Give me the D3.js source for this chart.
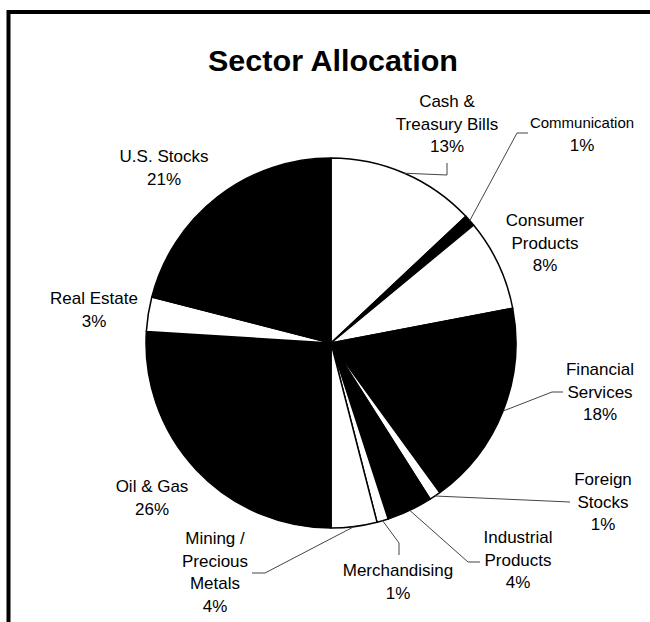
<!DOCTYPE html>
<html>
<head>
<meta charset="utf-8">
<script src="https://cdn.jsdelivr.net/npm/d3@7"></script>
<style>
  body { margin: 0; background: #fff; }
  text { font-family: "Liberation Sans", Arial, sans-serif; fill: #000; }
</style>
</head>
<body>
<svg id="chart"></svg>
<script>
const width = 650;
const height = 622;

// data
var sectors = ["Cash & Treasury Bills", "Communication", "Consumer Products", "Financial Services",
  "Foreign Stocks", "Industrial Products", "Merchandising", "Mining / Precious Metals",
  "Oil & Gas", "Real Estate", "U.S. Stocks"];
var percents = [13, 1, 8, 18, 1, 4, 1, 4, 26, 3, 21];
var fills = ["#fff", "#000", "#fff", "#000", "#fff", "#000", "#fff", "#fff", "#000", "#fff", "#000"];
var labelLines = [
  ["Cash &", "Treasury Bills"], ["Communication"], ["Consumer", "Products"], ["Financial", "Services"],
  ["Foreign", "Stocks"], ["Industrial", "Products"], ["Merchandising"], ["Mining /", "Precious", "Metals"],
  ["Oil & Gas"], ["Real Estate"], ["U.S. Stocks"]
];

// label layout (x center, first baseline), leader bends
var labelPos = [[447, 107], [582, 128], [545, 226], [600, 375], [603, 485], [518, 543],
  [398, 576], [215, 544], [152, 492], [94, 304], [164, 162]];
var leaders = [
  [[447, 175], [447, 163]],
  [[517, 133], [528, 133]],
  null,
  [[552, 392], [563, 392]],
  [[570, 502]],
  [[468, 562], [480, 562]],
  [[399, 543], [399, 555]],
  [[265, 573], [252, 573]],
  null, null, null
];

var cx = 331, cy = 343, r = 185;

var svg = d3.select('#chart')
  .attr('width', width)
  .attr('height', height);

// frame
svg.append('rect')
  .attr('x', 8.5).attr('y', 12)
  .attr('width', 700).attr('height', 700)
  .attr('fill', 'none')
  .attr('stroke', '#000')
  .attr('stroke-width', 4);

svg.append('text')
  .attr('x', 333).attr('y', 71)
  .attr('text-anchor', 'middle')
  .attr('textLength', 250)
  .attr('lengthAdjust', 'spacingAndGlyphs')
  .style('font-size', '29px')
  .style('font-weight', 'bold')
  .text('Sector Allocation');

var data = sectors.map(function (s, i) { return { name: s, value: percents[i], i: i }; });

var pie = d3.pie()
  .sort(null)
  .value(function (d) { return d.value; });

var arc = d3.arc()
  .innerRadius(0)
  .outerRadius(r);

var g = svg.append('g')
  .attr('transform', 'translate(' + cx + ',' + cy + ')');

var arcs = pie(data);

g.selectAll('path')
  .data(arcs)
  .enter().append('path')
  .attr('d', arc)
  .attr('fill', function (d) { return fills[d.data.i]; })
  .attr('stroke', '#000')
  .attr('stroke-width', 1.5)
  .attr('stroke-linejoin', 'round');

// leader lines
arcs.forEach(function (d) {
  var pts = leaders[d.data.i];
  if (!pts) return;
  var a = (d.startAngle + d.endAngle) / 2;
  var start = [cx + r * Math.sin(a), cy - r * Math.cos(a)];
  svg.append('path')
    .attr('d', d3.line()([start].concat(pts)))
    .attr('fill', 'none')
    .attr('stroke', '#444')
    .attr('stroke-width', 1);
});

// labels
arcs.forEach(function (d) {
  var i = d.data.i;
  var lines = labelLines[i].concat([d3.format('.0f')(d.data.value) + '%']);
  var t = svg.append('text')
    .attr('text-anchor', 'middle')
    .style('font-size', i == 1 ? '15px' : '17px');
  lines.forEach(function (l, k) {
    t.append('tspan')
      .attr('x', labelPos[i][0])
      .attr('y', labelPos[i][1] + k * 22.7)
      .style('font-size', (i == 1 && k == 1) ? '17px' : null)
      .text(l);
  });
});
</script>
</body>
</html>
